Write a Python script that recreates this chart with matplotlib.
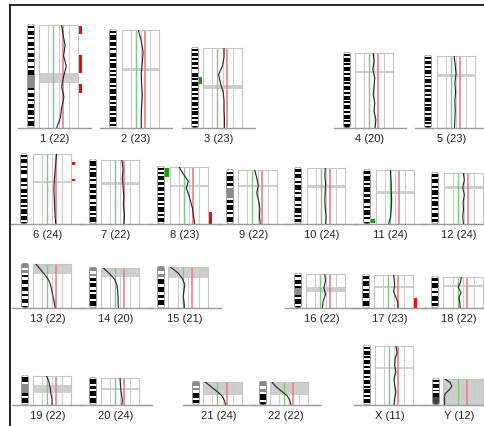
import numpy as np
import matplotlib.pyplot as plt
from matplotlib.patches import Rectangle, FancyBboxPatch
from matplotlib.lines import Line2D

W, H = 484, 426
PX_PER_MB = 0.414

names = ["1", "2", "3", "4", "5", "6", "7", "8", "9", "10", "11", "12",
         "13", "14", "15", "16", "17", "18", "19", "20", "21", "22", "X", "Y"]
counts = [22, 23, 23, 20, 23, 24, 22, 23, 22, 24, 24, 24,
          22, 20, 21, 22, 23, 22, 22, 24, 24, 22, 11, 12]
sizes_mb = [249, 237, 193, 181, 174, 169, 155, 138, 130, 135, 130, 123,
            106, 97, 99, 82, 80, 75, 70, 65, 56, 56, 143, 63]

# ratio profiles, top to bottom (fraction of panel width)
profiles = [
    [0.58, 0.62, 0.67, 0.63, 0.70, 0.63, 0.58, 0.64, 0.58, 0.55, 0.45],
    [0.44, 0.52, 0.57, 0.55, 0.52, 0.53, 0.55, 0.53, 0.52, 0.52],
    [0.54, 0.54, 0.50, 0.40, 0.45, 0.52, 0.54, 0.54, 0.55, 0.55],
    [0.48, 0.50, 0.47, 0.52, 0.50, 0.48, 0.52, 0.50, 0.55, 0.53],
    [0.45, 0.48, 0.50, 0.47, 0.49, 0.47, 0.48, 0.47, 0.46],
    [0.62, 0.60, 0.58, 0.56, 0.55, 0.56, 0.57, 0.58, 0.60],
    [0.55, 0.58, 0.56, 0.58, 0.60, 0.59, 0.62, 0.60],
    [0.24, 0.35, 0.48, 0.43, 0.50, 0.55, 0.60, 0.62, 0.65],
    [0.43, 0.48, 0.52, 0.48, 0.53, 0.56, 0.55, 0.57],
    [0.48, 0.47, 0.49, 0.48, 0.47, 0.48, 0.50, 0.49],
    [0.38, 0.39, 0.40, 0.40, 0.41, 0.41, 0.40, 0.38, 0.33],
    [0.50, 0.52, 0.48, 0.52, 0.49, 0.50, 0.48, 0.50],
    [0.08, 0.20, 0.32, 0.42, 0.47, 0.50, 0.53, 0.56, 0.58],
    [0.06, 0.22, 0.36, 0.42, 0.44, 0.45, 0.45, 0.46],
    [0.06, 0.25, 0.36, 0.42, 0.40, 0.38, 0.40, 0.41],
    [0.48, 0.50, 0.46, 0.50, 0.44, 0.42],
    [0.50, 0.52, 0.53, 0.50, 0.56, 0.61, 0.62],
    [0.46, 0.44, 0.38, 0.45, 0.40, 0.42, 0.43],
    [0.36, 0.42, 0.45, 0.47, 0.50, 0.50],
    [0.50, 0.51, 0.52, 0.54, 0.56, 0.55],
    [0.05, 0.20, 0.35, 0.48, 0.55, 0.58],
    [0.05, 0.15, 0.30, 0.45, 0.52, 0.55],
    [0.55, 0.58, 0.53, 0.52, 0.55, 0.50, 0.52, 0.55, 0.52, 0.50],
    [0.05, 0.18, 0.22, 0.15, 0.05, 0.04, 0.04, 0.04],
]

# grey centromere / heterochromatin span (fraction of length)
cen_spans = [(0.47, 0.56), (0.39, 0.42), (0.46, 0.51), (0.24, 0.27), (0.25, 0.29),
             (0.38, 0.42), (0.35, 0.39), (0.31, 0.36), (0.28, 0.32), (0.30, 0.35),
             (0.39, 0.44), (0.25, 0.31), (0.0, 0.22), (0.0, 0.23), (0.0, 0.27),
             (0.38, 0.53), (0.33, 0.40), (0.27, 0.33), (0.31, 0.59), (0.38, 0.45),
             (0.0, 0.55), (0.0, 0.55), (0.35, 0.39), (0.0, 1.0)]

# cytobands: 0 white, 1 black, 2 grey, 3 dark grey
bands = [
    "01011010110101101001011222222101101011011010110",
    "0101101101011010110101011010110110101101011010",
    "01011010110100110101101101011011010110101101",
    "0101101011010110101101011010110101101011",
    "010110101101011010110101101011010110101",
    "0101101011001101011010110101101101",
    "01101011010110101101011010110",
    "0101011010110101101011010110",
    "01011010222201011010110",
    "0101101011010110101101010",
    "010110101101011010110101",
    "01011010110101101011010",
    "2202010110110101101",
    "220201011010110110",
    "2202011011010110",
    "0101101222101101",
    "01011010110110",
    "0101101011010",
    "0110222210110",
    "011010110110",
    "2202011010",
    "220201101",
    "0101101011010110101101011010110",
    "01011010113333",
]

# gain/loss calls: (chrom index, side, start frac, end frac)
red_calls = [(0, 0.01, 0.09), (0, 0.29, 0.47), (0, 0.57, 0.66),
             (5, 0.12, 0.15), (5, 0.35, 0.38), (7, 0.79, 1.0), (16, 0.70, 1.0)]
green_calls = [(2, 0.36, 0.45), (7, 0.02, 0.18), (10, 0.91, 0.98)]

grid_pos = [0.24, 0.50, 0.77]
green_pos = 0.37
red_pos = 0.61

# layout in pixels: ideogram left, panel left, panel right, baseline y
ideo_x = [27, 109, 191, 343, 424, 20, 89, 157, 226, 294, 363, 431,
          21, 89, 157, 294, 362, 431, 21, 89, 192, 259, 363, 432]
box_x0 = [39, 122, 203, 355, 437, 33, 101, 170, 238, 307, 376, 444,
          33, 101, 168, 306, 374, 443, 33, 101, 203, 270, 375, 443]
box_x1 = [78, 159, 242, 393, 475, 71, 139, 208, 277, 345, 414, 483,
          71, 139, 208, 345, 413, 483, 71, 139, 242, 308, 413, 483]
base_y = [128] * 5 + [224] * 7 + [308] * 6 + [405] * 6

band_colors = {"0": "white", "1": "black", "2": "#8a8a8a", "3": "#444444"}

fig = plt.figure(figsize=(W / 100, H / 100), dpi=100)
fig.patch.set_facecolor("white")


def rect(x0, y_top, w, h):
    return [x0 / W, 1 - (y_top + h) / H, w / W, h / H]


for i, name in enumerate(names):
    L = sizes_mb[i]
    h = L * PX_PER_MB
    top = base_y[i] - h
    bw = box_x1[i] - box_x0[i]

    # profile panel
    ax = fig.add_axes(rect(box_x0[i], top, bw, h))
    ax.set_xlim(0, 1)
    ax.set_ylim(L, 0)
    ax.set_xticks([])
    ax.set_yticks([])
    for s in ["top", "left", "right"]:
        ax.spines[s].set_color("#c4c4c4")
        ax.spines[s].set_linewidth(0.8)
    ax.spines["bottom"].set_visible(False)
    c0, c1 = cen_spans[i]
    ax.axhspan(c0 * L, c1 * L, color="#c2c2c2", alpha=0.8, lw=0, zorder=0)
    for g in grid_pos:
        ax.axvline(g, color="#cdcdcd", lw=0.8, zorder=1)
    ax.axvline(green_pos, color="#7ccc7c", lw=1.0, zorder=2)
    ax.axvline(red_pos, color="#ee7f7f", lw=1.2, zorder=2)
    vals = profiles[i]
    ys = np.linspace(0, L, len(vals))
    ax.plot(vals, ys, color="#222222", lw=0.8, zorder=3)

    for ci, a, b in red_calls:
        if ci == i:
            ax.add_patch(Rectangle((1.03, a * L), 0.08, (b - a) * L,
                                   color="#ff0000", lw=0, clip_on=False))
    for ci, a, b in green_calls:
        if ci == i:
            ax.add_patch(Rectangle((-0.12, a * L), 0.09, (b - a) * L,
                                   color="#00aa00", lw=0, clip_on=False))

    # ideogram
    iw = 8
    ai = fig.add_axes(rect(ideo_x[i], top - 1, iw, h + 1))
    ai.set_xlim(0, 1)
    ai.set_ylim(L, 0)
    ai.axis("off")
    outline = FancyBboxPatch((0.06, 0.0), 0.88, L,
                             boxstyle="round,pad=0,rounding_size=0.4",
                             mutation_aspect=(L / (h + 1)) / (1 / iw),
                             fc="none", ec="#9a9a9a", lw=0.7, zorder=5)
    ai.add_patch(outline)
    pat = bands[i]
    edges = np.linspace(0, L, len(pat) + 1)
    for k, ch in enumerate(pat):
        bars = ai.bar(0.5, edges[k + 1] - edges[k], bottom=edges[k], width=0.88,
                      color=band_colors[ch], lw=0)
        for b in bars:
            b.set_clip_path(outline)

    # baseline and label
    xa, xb = ideo_x[i] - 9, box_x1[i] + 13
    fig.add_artist(Line2D([xa / W, min(xb, W) / W],
                          [1 - base_y[i] / H, 1 - base_y[i] / H],
                          transform=fig.transFigure, color="#9a9a9a", lw=1.0))
    fig.text((xa + xb) / 2 / W, 1 - (base_y[i] + 11) / H, f"{name} ({counts[i]})",
             ha="center", va="center", fontsize=8, family="Liberation Sans",
             color="#222222")

# frame
fig.add_artist(Line2D([10 / W, 1], [1 - 5 / H, 1 - 5 / H],
                      transform=fig.transFigure, color="black", lw=1.2))
fig.add_artist(Line2D([10 / W, 10 / W], [0, 1 - 5 / H],
                      transform=fig.transFigure, color="black", lw=1.2))

fig.savefig("out.png", dpi=100)
